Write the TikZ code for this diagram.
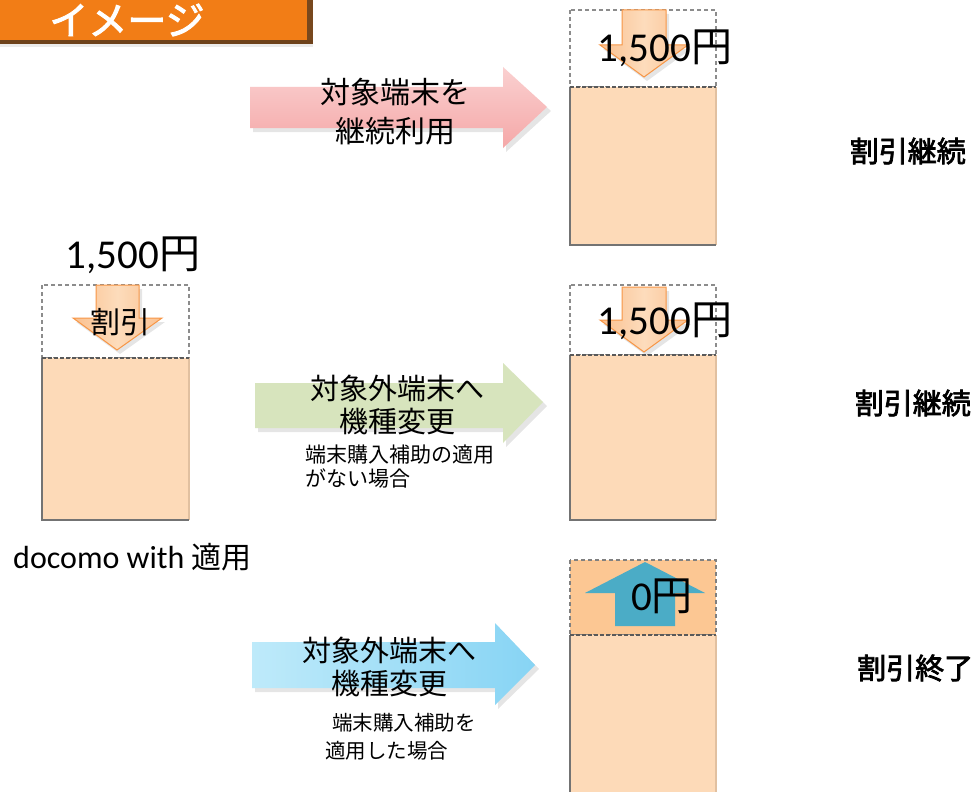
\documentclass[tikz,border=0pt]{standalone}
\usepackage{fontspec}
\setmainfont{Carlito}
\newfontfamily\jp{Noto Sans CJK JP}
\newfontfamily\jpb[FakeBold=2.5]{Noto Sans CJK JP}
\definecolor{banner}{RGB}{242,125,22}
\definecolor{bannerdark}{RGB}{120,72,30}
\definecolor{peach}{RGB}{253,218,184}
\definecolor{peachdark}{RGB}{252,199,147}
\definecolor{dashgray}{RGB}{140,140,140}
\definecolor{arrowline}{RGB}{247,150,70}
\definecolor{arrowA}{RGB}{250,192,143}
\definecolor{arrowB}{RGB}{253,220,188}
\definecolor{teal}{RGB}{75,172,198}
\definecolor{pinkA}{RGB}{250,208,208}
\definecolor{pinkB}{RGB}{245,168,168}
\definecolor{greenA}{RGB}{215,228,189}
\definecolor{blueA}{RGB}{190,234,250}
\definecolor{blueB}{RGB}{135,212,244}
\definecolor{tanedge}{RGB}{225,192,160}
\begin{document}
\begin{tikzpicture}[x=1pt,y=-1pt,
  dashbox/.style={draw=dashgray,line width=1.6pt,dash pattern=on 4pt off 3pt},
  divline/.style={draw=black!65,line width=1.4pt,dash pattern=on 4pt off 2pt},
  downarrow/.style={draw=arrowline,line width=1pt,left color=arrowA,right color=arrowA,middle color=arrowB},
  shadowfill/.style={fill=black,opacity=0.10},
  bigtxt/.style={font=\jp\fontsize{30}{39}\selectfont,align=center,inner sep=0pt},
  smalltxt/.style={font=\jp\fontsize{21}{24}\selectfont,align=left,inner sep=0pt},
  yentxt/.style={font=\fontsize{41}{41}\selectfont,inner sep=0pt},
  result/.style={font=\jpb\fontsize{29}{29}\selectfont,inner sep=0pt}]
\useasboundingbox (0,0) rectangle (975,792);
\fill[white] (0,0) rectangle (975,792);

% title banner
\fill[bannerdark] (0,0) rectangle (313,44);
\fill[banner] (0,0) rectangle (307,40);
\fill[black,opacity=0.08] (0,40) rectangle (313,47);
\node[text=white,font=\jpb\fontsize{39}{39}\selectfont,inner sep=0pt] (title) at (127,20) {イメージ};

% left box
\draw[dashbox] (42,285) rectangle (189,358);
\fill[peach] (42,358) rectangle (189,520);
\draw[tanedge,line width=1.2pt] (189,358) -- (189,520);
\draw[black!55,line width=1.8pt] (42,358) -- (42,520) -- (189,520);
\draw[divline] (42,358) -- (189,358);
\fill[shadowfill] (99,289) -- (142,289) -- (142,322) -- (165,322) -- (120,354) -- (76,322) -- (99,322) -- cycle;
\path[downarrow] (96,285) -- (139,285) -- (139,318) -- (162,318) -- (117,350) -- (73,318) -- (96,318) -- cycle;
\node[font=\jp\fontsize{30}{30}\selectfont,inner sep=0pt] (waribiki) at (120,322) {割引};
\node[yentxt] (yenL) at (133,255) {1,500{\jp 円}};
\node[font=\fontsize{32}{32}\selectfont,inner sep=0pt,anchor=west] (docomo) at (13,557) {docomo with {\jp\fontsize{30}{30}\selectfont 適用}};

% right box 1
\draw[dashbox] (570,10) rectangle (716,87);
\fill[peach] (570,87) rectangle (716,245);
\draw[tanedge,line width=1.2pt] (716,87) -- (716,245);
\draw[black!55,line width=1.8pt] (570,87) -- (570,245) -- (716,245);
\draw[divline] (570,87) -- (716,87);
\fill[shadowfill] (625,14) -- (669,14) -- (669,49) -- (691,49) -- (647,81) -- (603,49) -- (625,49) -- cycle;
\path[downarrow] (622,10) -- (666,10) -- (666,45) -- (688,45) -- (644,77) -- (600,45) -- (622,45) -- cycle;
\node[yentxt] (yen1) at (665,48) {1,500{\jp 円}};

% right box 2
\draw[dashbox] (570,285) rectangle (716,355);
\fill[peach] (570,355) rectangle (716,520);
\draw[tanedge,line width=1.2pt] (716,355) -- (716,520);
\draw[black!55,line width=1.8pt] (570,355) -- (570,520) -- (716,520);
\draw[divline] (570,355) -- (716,355);
\fill[shadowfill] (625,291) -- (669,291) -- (669,324) -- (691,324) -- (647,356) -- (603,324) -- (625,324) -- cycle;
\path[downarrow] (622,287) -- (666,287) -- (666,320) -- (688,320) -- (644,352) -- (600,320) -- (622,320) -- cycle;
\node[yentxt] (yen2) at (665,321) {1,500{\jp 円}};

% right box 3
\fill[peachdark] (570,560) rectangle (716,635);
\draw[dashbox,draw=black!50] (570,560) rectangle (716,635);
\fill[peach] (570,635) rectangle (716,792);
\draw[tanedge,line width=1.2pt] (716,635) -- (716,792);
\draw[black!55,line width=1.8pt] (570,635) -- (570,792);
\draw[divline] (570,635) -- (716,635);
\fill[teal] (645,562) -- (705,593) -- (675,593) -- (675,626) -- (615,626) -- (615,593) -- (585,593) -- cycle;
\node[yentxt] (yen3) at (662,596) {0{\jp 円}};

% big arrow 1 (pink)
\fill[shadowfill] (253,91) -- (506,91) -- (506,71) -- (551,111) -- (506,152) -- (506,132) -- (253,132) -- cycle;
\shade[top color=pinkA,bottom color=pinkB] (250,87) -- (503,87) -- (503,67) -- (547,107) -- (503,148) -- (503,128) -- (250,128) -- cycle;
\node[bigtxt] (arr1) at (395,112) {対象端末を\\継続利用};

% big arrow 2 (green)
\fill[shadowfill] (258,387) -- (506,387) -- (506,367) -- (547,406) -- (506,447) -- (506,432) -- (258,432) -- cycle;
\fill[greenA] (255,383) -- (503,383) -- (503,363) -- (543,402) -- (503,443) -- (503,428) -- (255,428) -- cycle;
\node[bigtxt,font=\jp\fontsize{29}{33}\selectfont] (arr2) at (397,405) {対象外端末へ\\機種変更};
\node[smalltxt,anchor=west] (note2) at (305,467) {端末購入補助の適用\\がない場合};

% big arrow 3 (blue)
\fill[shadowfill] (255,646) -- (498,646) -- (498,627) -- (539,669) -- (498,709) -- (498,692) -- (255,692) -- cycle;
\shade[left color=blueA,right color=blueB] (252,642) -- (495,642) -- (495,623) -- (535,665) -- (495,705) -- (495,688) -- (252,688) -- cycle;
\node[bigtxt,font=\jp\fontsize{29}{33}\selectfont] (arr3) at (389,667) {対象外端末へ\\機種変更};
\node[smalltxt,anchor=west,font=\jp\fontsize{20.5}{28}\selectfont] (note3) at (325,737) {\hspace{7pt}端末購入補助を\\適用した場合};

% result labels
\node[result,anchor=east] (res1) at (966,151) {割引継続};
\node[result,anchor=east] (res2) at (971,403) {割引継続};
\node[result,anchor=west] (res3) at (857,668) {割引終了};
\end{tikzpicture}
\end{document}
